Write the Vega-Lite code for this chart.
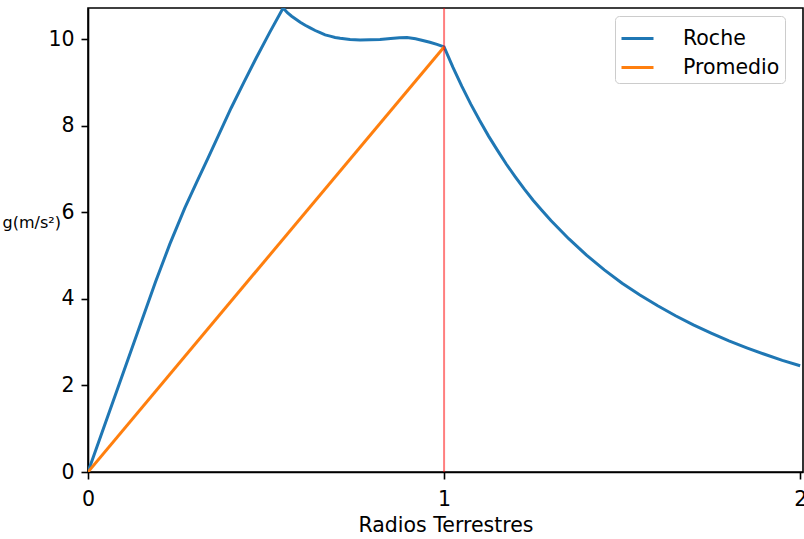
{
  "$schema": "https://vega.github.io/schema/vega-lite/v6.json",
  "width": 715,
  "height": 464,
  "autosize": {"type": "none"},
  "padding": {"left": 88, "top": 8, "right": 1, "bottom": 67},
  "background": "white",
  "config": {
    "font": "DejaVu Sans",
    "view": {"stroke": "black", "strokeWidth": 1.6},
    "axis": {
      "domainColor": "black", "domainWidth": 1.6, "tickColor": "black", "tickWidth": 1.6,
      "tickSize": 7, "labelFontSize": 20.5, "labelColor": "black", "titleFontSize": 20.5,
      "titleFontWeight": "normal", "titleColor": "black", "grid": false, "labelPadding": 7,
      "labelOverlap": false, "labelFlush": false, "labelBound": false
    },
    "axisX": {"labelPadding": 10, "titlePadding": 6}
  },
  "datasets": {
    "curvas": [
      {"x": 0.0, "g": 0.0, "serie": "Roche"},
      {"x": 0.19, "g": 4.4, "serie": "Roche"},
      {"x": 0.23, "g": 5.27, "serie": "Roche"},
      {"x": 0.272, "g": 6.1, "serie": "Roche"},
      {"x": 0.305, "g": 6.69, "serie": "Roche"},
      {"x": 0.337, "g": 7.25, "serie": "Roche"},
      {"x": 0.37, "g": 7.84, "serie": "Roche"},
      {"x": 0.402, "g": 8.41, "serie": "Roche"},
      {"x": 0.437, "g": 8.99, "serie": "Roche"},
      {"x": 0.472, "g": 9.56, "serie": "Roche"},
      {"x": 0.51, "g": 10.15, "serie": "Roche"},
      {"x": 0.548, "g": 10.72, "serie": "Roche"},
      {"x": 0.56, "g": 10.61, "serie": "Roche"},
      {"x": 0.572, "g": 10.53, "serie": "Roche"},
      {"x": 0.584, "g": 10.46, "serie": "Roche"},
      {"x": 0.596, "g": 10.39, "serie": "Roche"},
      {"x": 0.61, "g": 10.32, "serie": "Roche"},
      {"x": 0.624, "g": 10.26, "serie": "Roche"},
      {"x": 0.638, "g": 10.2, "serie": "Roche"},
      {"x": 0.652, "g": 10.15, "serie": "Roche"},
      {"x": 0.666, "g": 10.1, "serie": "Roche"},
      {"x": 0.68, "g": 10.07, "serie": "Roche"},
      {"x": 0.694, "g": 10.04, "serie": "Roche"},
      {"x": 0.708, "g": 10.02, "serie": "Roche"},
      {"x": 0.736, "g": 9.995, "serie": "Roche"},
      {"x": 0.764, "g": 9.98, "serie": "Roche"},
      {"x": 0.792, "g": 9.985, "serie": "Roche"},
      {"x": 0.82, "g": 9.995, "serie": "Roche"},
      {"x": 0.85, "g": 10.015, "serie": "Roche"},
      {"x": 0.875, "g": 10.03, "serie": "Roche"},
      {"x": 0.896, "g": 10.04, "serie": "Roche"},
      {"x": 0.92, "g": 10.01, "serie": "Roche"},
      {"x": 0.94, "g": 9.97, "serie": "Roche"},
      {"x": 0.96, "g": 9.93, "serie": "Roche"},
      {"x": 0.98, "g": 9.88, "serie": "Roche"},
      {"x": 1.0, "g": 9.82, "serie": "Roche"},
      {"x": 1.025, "g": 9.35, "serie": "Roche"},
      {"x": 1.05, "g": 8.91, "serie": "Roche"},
      {"x": 1.075, "g": 8.5, "serie": "Roche"},
      {"x": 1.1, "g": 8.12, "serie": "Roche"},
      {"x": 1.125, "g": 7.76, "serie": "Roche"},
      {"x": 1.15, "g": 7.43, "serie": "Roche"},
      {"x": 1.175, "g": 7.11, "serie": "Roche"},
      {"x": 1.2, "g": 6.82, "serie": "Roche"},
      {"x": 1.225, "g": 6.54, "serie": "Roche"},
      {"x": 1.25, "g": 6.28, "serie": "Roche"},
      {"x": 1.275, "g": 6.04, "serie": "Roche"},
      {"x": 1.3, "g": 5.81, "serie": "Roche"},
      {"x": 1.35, "g": 5.39, "serie": "Roche"},
      {"x": 1.4, "g": 5.01, "serie": "Roche"},
      {"x": 1.45, "g": 4.67, "serie": "Roche"},
      {"x": 1.5, "g": 4.36, "serie": "Roche"},
      {"x": 1.55, "g": 4.09, "serie": "Roche"},
      {"x": 1.6, "g": 3.84, "serie": "Roche"},
      {"x": 1.65, "g": 3.61, "serie": "Roche"},
      {"x": 1.7, "g": 3.4, "serie": "Roche"},
      {"x": 1.75, "g": 3.21, "serie": "Roche"},
      {"x": 1.8, "g": 3.03, "serie": "Roche"},
      {"x": 1.85, "g": 2.87, "serie": "Roche"},
      {"x": 1.9, "g": 2.72, "serie": "Roche"},
      {"x": 1.95, "g": 2.58, "serie": "Roche"},
      {"x": 2.0, "g": 2.455, "serie": "Roche"},
      {"x": 0.0, "g": 0.0, "serie": "Promedio"},
      {"x": 1.0, "g": 9.82, "serie": "Promedio"}
    ],
    "linea": [{"x": 1.0}]
  },
  "layer": [
    {
      "data": {"name": "curvas"},
      "mark": {"type": "line", "strokeWidth": 3, "clip": true},
      "encoding": {
        "x": {
          "field": "x", "type": "quantitative",
          "scale": {"domain": [0, 2.008], "nice": false, "zero": false},
          "axis": {"values": [0, 1, 2], "labelExpr": "datum.value == 0 ? '0' : datum.value == 1 ? '1' : '2'", "title": "Radios Terrestres"}
        },
        "y": {
          "field": "g", "type": "quantitative",
          "scale": {"domain": [0, 10.72], "nice": false},
          "axis": {"values": [0, 2, 4, 6, 8, 10], "title": "g(m/s²)", "titleAngle": 0,
                   "titleX": -86, "titleY": 214, "titleAlign": "left", "titleBaseline": "middle", "titleFontSize": 16}
        },
        "color": {
          "field": "serie", "type": "nominal",
          "scale": {"domain": ["Roche", "Promedio"], "range": ["#1f77b4", "#ff7f0e"]},
          "legend": {
            "title": null, "orient": "none", "legendX": 527, "legendY": 8,
            "symbolType": "stroke", "symbolSize": 1024, "symbolStrokeWidth": 3,
            "labelFontSize": 20.5, "labelColor": "black", "rowPadding": 1, "labelOffset": 28,
            "strokeColor": "#cccccc", "fillColor": "white", "cornerRadius": 4, "padding": 5
          }
        },
        "order": {"field": "x", "type": "quantitative"}
      }
    },
    {
      "data": {"name": "linea"},
      "mark": {"type": "rule", "color": "#ff0000", "opacity": 0.5, "strokeWidth": 2},
      "encoding": {
        "x": {
          "field": "x", "type": "quantitative",
          "scale": {"domain": [0, 2.008], "nice": false, "zero": false},
          "axis": {"values": [0, 1, 2], "labelExpr": "datum.value == 0 ? '0' : datum.value == 1 ? '1' : '2'", "title": "Radios Terrestres"}
        }
      }
    }
  ]
}
